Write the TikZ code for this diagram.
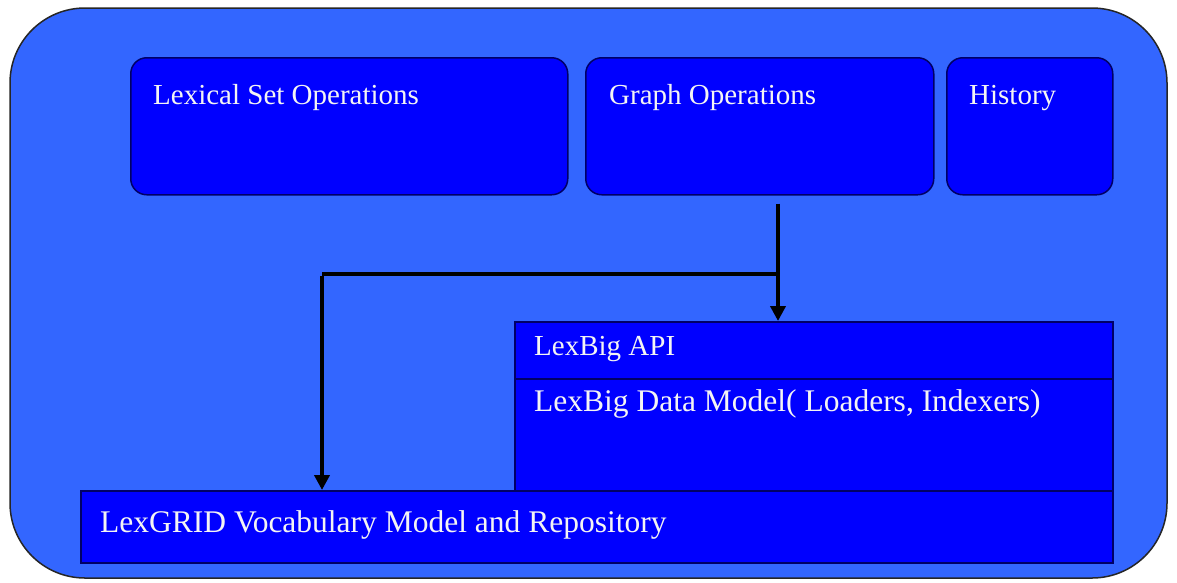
\documentclass[tikz,border=0pt]{standalone}
\usepackage{fontspec}
\setmainfont{Liberation Serif}
\usetikzlibrary{arrows.meta,calc}
\definecolor{outerblue}{HTML}{3366FF}
\definecolor{innerblue}{HTML}{0000FF}
\definecolor{edgenavy}{HTML}{000066}
\definecolor{txtwhite}{HTML}{F4F4F4}
\tikzset{
  outerbox/.style={draw=black!85, line width=1.5pt, fill=outerblue, rounded corners=75pt},
  rbox/.style={draw=edgenavy, line width=1.5pt, fill=innerblue, rounded corners=16pt, anchor=north west, inner sep=0pt},
  sbox/.style={draw=edgenavy, line width=1.5pt, fill=innerblue, anchor=north west, inner sep=0pt},
  txt/.style={text=txtwhite, anchor=west, inner sep=0pt, font=\fontsize{29}{33}\selectfont},
  wtxt/.style={txt, font=\fontsize{31.5}{36}\selectfont},
  conn/.style={draw=black, line width=4.5pt},
  arr/.style={conn, -{Triangle[length=15pt,width=15pt]}},
}
\begin{document}
\begin{tikzpicture}[x=1pt,y=-1pt]
\useasboundingbox (0,0) rectangle (1177,582);
\fill[white] (0,0) rectangle (1177,582);
\draw[outerbox] (10,8) rectangle (1167,578);
% top row
\node[rbox, minimum width=437pt, minimum height=137pt] (lso) at (130,57) {};
\node[rbox, minimum width=348pt, minimum height=137pt] (go) at (585,57) {};
\node[rbox, minimum width=166pt, minimum height=137pt] (hist) at (946,57) {};
\node[txt] (lsot) at ($(lso.north west)+(23,41)$) {Lexical Set Operations};
\node[txt] (got) at ($(go.north west)+(24,41)$) {Graph Operations};
\node[txt] (histt) at ($(hist.north west)+(23,41)$) {History};
% lower stack
\node[sbox, minimum width=598pt, minimum height=57pt] (api) at (514,321) {};
\node[sbox, minimum width=598pt, minimum height=112pt] (dm) at (514,378) {};
\node[sbox, minimum width=1032pt, minimum height=72pt] (grid) at (80,490) {};
\node[txt] (apit) at ($(api.north west)+(20,28)$) {LexBig API};
\node[wtxt] (dmt) at ($(dm.north west)+(20,26)$) {LexBig Data Model( Loaders, Indexers)};
\node[wtxt] (gridt) at ($(grid.north west)+(20,35)$) {LexGRID Vocabulary Model and Repository};
% connectors
\coordinate (split) at (778,274);
\coordinate (bend) at (322,274);
\draw[arr, shorten <=8pt] (go.south -| split) -- (api.north -| split);
\draw[conn] (split) -- (bend);
\draw[arr] ([yshift=-2.25pt]bend) -- (grid.north -| bend);
\end{tikzpicture}
\end{document}
